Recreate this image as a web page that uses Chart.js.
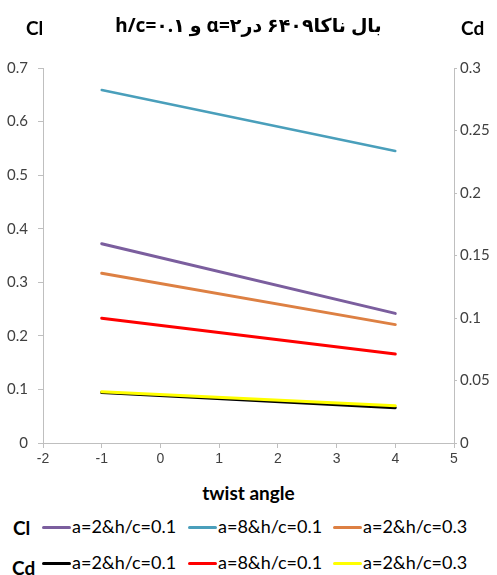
<!DOCTYPE html>
<html>
<head>
<meta charset="utf-8">
<script src="https://cdn.jsdelivr.net/npm/chart.js@4"></script>
<style>
  html, body { margin: 0; padding: 0; background: #fff; }
  #wrap { position: relative; width: 497px; height: 575px; overflow: hidden; font-family: Lato, 'DejaVu Sans', sans-serif; color: #000; }
  #chart { position: absolute; left: 0; top: 0; }
  .lbl { position: absolute; white-space: nowrap; line-height: 1; }
  .title { font-family: 'Noto Sans', 'DejaVu Sans', sans-serif; font-weight: bold; font-size: 19px; left: 0; width: 497px; top: 16px; text-align: center; }
  .axis { font-weight: bold; font-size: 19px; }
  .key { position: absolute; height: 3px; width: 29px; border-radius: 2px; }
  .ktxt { font-size: 18px; }
</style>
</head>
<body>
<div id="wrap">
  <canvas id="chart" width="497" height="470"></canvas>
  <div class="lbl title" dir="rtl">بال ناکا۶۴۰۹ در۲=α و h/c=۰.۱</div>
  <div class="lbl axis" style="left:26px;top:18px">Cl</div>
  <div class="lbl axis" style="left:461px;top:18px">Cd</div>
  <div class="lbl axis" style="left:0;width:497px;text-align:center;top:483px">twist angle</div>
  <div id="legend"></div>
</div>
<script>
// ── Data ─────────────────────────────────────────────────────────────────────
const twistAngles = [-1, 4]

// lift coefficient (left axis)
const clA2H01 = [0.372, 0.242]
const clA8H01 = [0.659, 0.545]
const clA2H03 = [0.317, 0.221]

// drag coefficient (right axis)
const cdA2H01 = [0.0404, 0.0282]
const cdA8H01 = [0.0998, 0.0712]
const cdA2H03 = [0.0410, 0.0298]

const seriesNames = ['a=2&h/c=0.1', 'a=8&h/c=0.1', 'a=2&h/c=0.3']

const axisGrey = '#bfbfbf'
const tickGrey = '#404040'

const toPoints = vals => vals.map((v, i) => ({ x: twistAngles[i], y: v }))

function series(label, vals, color, axis, order, width) {
  return {
    label, data: toPoints(vals), yAxisID: axis, order,
    borderColor: color, backgroundColor: color,
    borderWidth: width || 3, pointRadius: 0, tension: 0,
    borderCapStyle: 'round',
  }
}

const fmt = v => String(+(+v).toFixed(2))
const yTickFont = { family: 'Lato', size: 15 }

new Chart(document.getElementById('chart'), {
  type: 'line',
  data: {
    datasets: [
      series('Cd ' + seriesNames[2], cdA2H03, '#ffff00', 'yCd', 0),
      series('Cd ' + seriesNames[1], cdA8H01, '#ff0000', 'yCd', 1),
      series('Cd ' + seriesNames[0], cdA2H01, '#000000', 'yCd', 2),
      series('Cl ' + seriesNames[2], clA2H03, '#dd8043', 'yCl', 3),
      series('Cl ' + seriesNames[1], clA8H01, '#4a9fbb', 'yCl', 4, 2.5),
      series('Cl ' + seriesNames[0], clA2H01, '#7b5e9e', 'yCl', 5),
    ],
  },
  options: {
    responsive: false,
    animation: false,
    layout: { padding: { top: 68, left: 0, right: 0, bottom: 0 } },
    plugins: { legend: { display: false }, tooltip: { enabled: false } },
    scales: {
      x: {
        type: 'linear', min: -2, max: 5,
        ticks: { stepSize: 1, color: tickGrey, font: { family: 'Liberation Sans', size: 14 }, padding: 3, maxRotation: 0 },
        grid: { drawOnChartArea: false, color: axisGrey, tickLength: 5 },
        border: { color: axisGrey },
        afterFit: s => { s.height = 27 },
      },
      yCl: {
        position: 'left', min: 0, max: 0.7,
        ticks: { stepSize: 0.1, color: tickGrey, font: yTickFont, padding: 10, callback: fmt },
        grid: { drawOnChartArea: false, color: axisGrey, tickLength: 5 },
        border: { color: axisGrey },
        afterFit: s => { s.width = 43 },
      },
      yCd: {
        position: 'right', min: 0, max: 0.3,
        ticks: { stepSize: 0.05, color: tickGrey, font: yTickFont, padding: 3, callback: fmt },
        grid: { drawOnChartArea: false, color: axisGrey, tickLength: 3 },
        border: { color: axisGrey },
        afterFit: s => { s.width = 43 },
      },
    },
  },
})

// ── Legend (two rows: Cl and Cd) ─────────────────────────────────────────────
const legendRows = [
  { head: 'Cl', headX: 13, headY: 518, lineY: 527, colors: ['#7b5e9e', '#4a9fbb', '#dd8043'] },
  { head: 'Cd', headX: 12, headY: 558, lineY: 563, colors: ['#000000', '#ff0000', '#ffff00'] },
]
const keyX = [42, 188, 333]
const legend = document.getElementById('legend')
legendRows.forEach(row => {
  legend.insertAdjacentHTML('beforeend',
    `<div class="lbl axis" style="left:${row.headX}px;top:${row.headY}px">${row.head}</div>`)
  row.colors.forEach((c, i) => {
    legend.insertAdjacentHTML('beforeend',
      `<div class="key" style="left:${keyX[i]}px;top:${row.lineY - 1}px;background:${c}"></div>` +
      `<div class="lbl ktxt" style="left:${keyX[i] + 30}px;top:${row.lineY - 10}px">${seriesNames[i]}</div>`)
  })
})
</script>
</body>
</html>
